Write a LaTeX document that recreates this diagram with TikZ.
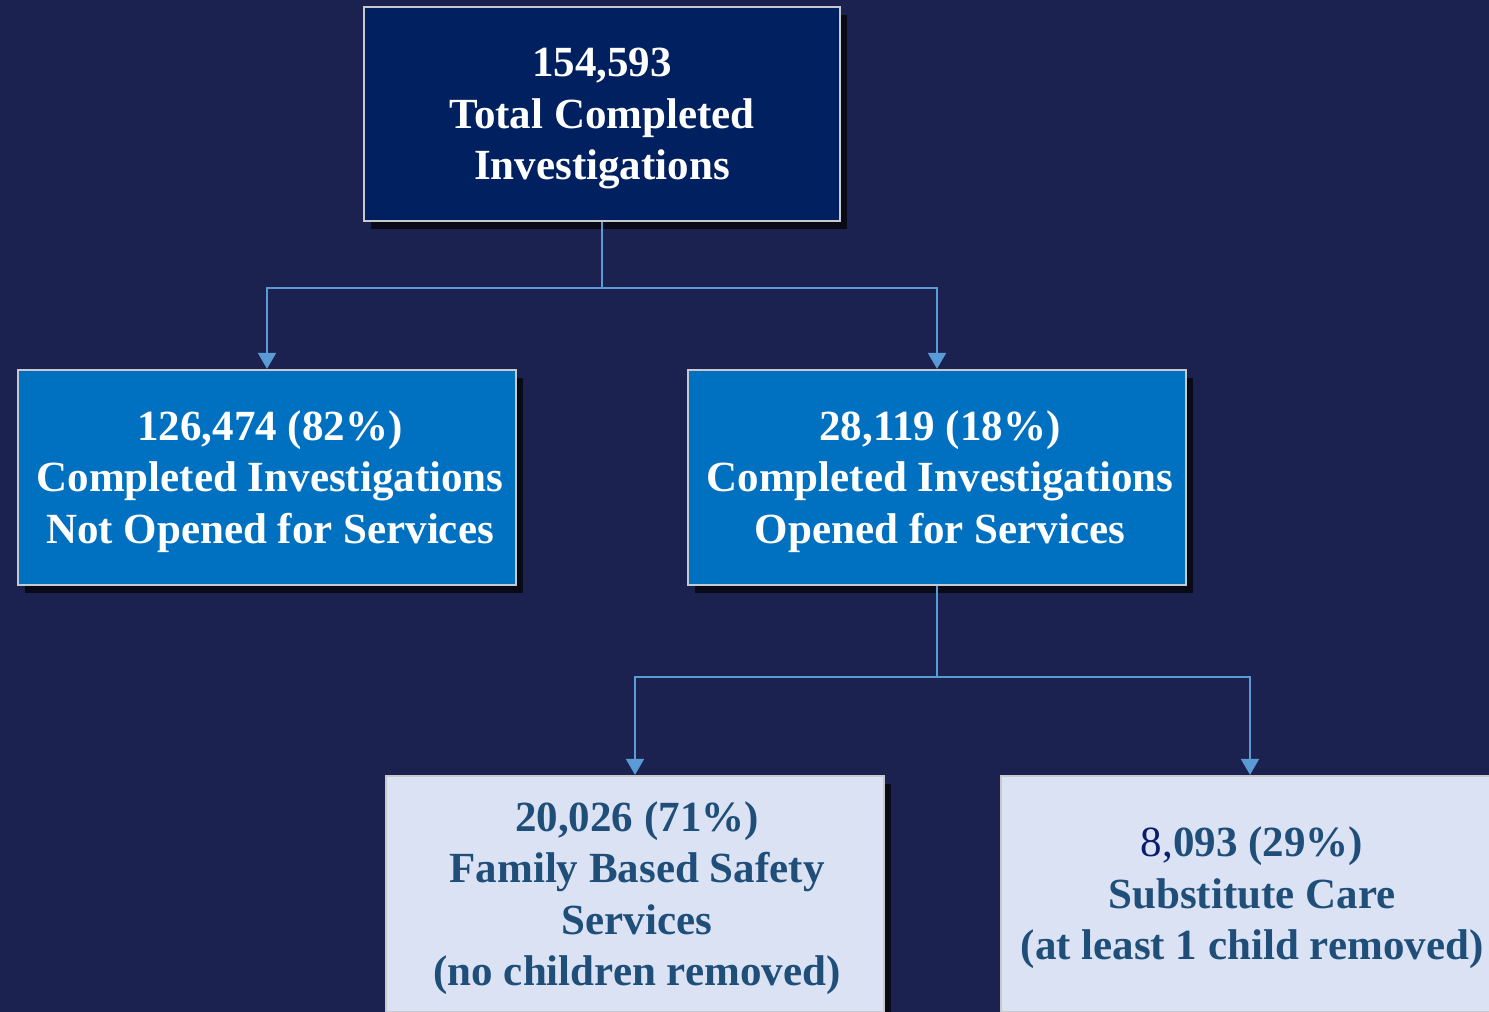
\documentclass[tikz,border=0pt]{standalone}
\usepackage{fontspec}
\setmainfont{Liberation Serif}
\usetikzlibrary{arrows.meta,shadows}
\definecolor{bgnavy}{RGB}{27,34,80}
\definecolor{topfill}{RGB}{0,32,96}
\definecolor{midfill}{RGB}{0,112,192}
\definecolor{lowfill}{RGB}{219,226,243}
\definecolor{lowtext}{RGB}{31,78,121}
\definecolor{eightc}{RGB}{10,28,110}
\definecolor{conncol}{RGB}{91,155,213}
\definecolor{edgecol}{RGB}{200,200,205}
\begin{document}
\begin{tikzpicture}[x=1pt,y=-1pt,
  boxbase/.style={rectangle, draw=edgecol, line width=1.3pt, inner sep=0pt,
     drop shadow={shadow xshift=7pt, shadow yshift=-8pt, fill=black, opacity=0.7}},
  topbox/.style={boxbase, fill=topfill, minimum width=476pt, minimum height=214pt},
  midbox/.style={boxbase, fill=midfill, minimum width=498pt, minimum height=215pt},
  lowbox/.style={boxbase, fill=lowfill, minimum width=498pt, minimum height=236pt},
  boxtext/.style={inner sep=0pt, align=center, font=\fontsize{43}{51.5}\selectfont\bfseries},
  conn/.style={draw=conncol, line width=2.2pt},
  arr/.style={conn, -{Triangle[width=18pt,length=16pt]}, shorten >=0.5pt}
]
\clip (0,0) rectangle (1489,1012);
\fill[bgnavy] (0,0) rectangle (1489,1012);
\useasboundingbox (0,0) rectangle (1489,1012);

\node[topbox] (top) at (602,114) {};
\node[midbox] (left) at (267,477.5) {};
\node[midbox] (right) at (937,477.5) {};
\node[lowbox] (fbss) at (635,894) {};
\node[lowbox] (sub) at (1250,894) {};

\node[boxtext, text=white] (toptext) at ([yshift=-5pt]top.center) {154,593\\Total Completed\\Investigations};
\node[boxtext, text=white] (lefttext) at ([xshift=3pt,yshift=-4pt]left.center) {126,474 (82\%)\\Completed Investigations\\Not Opened for Services};
\node[boxtext, text=white] (righttext) at ([xshift=3pt,yshift=-4pt]right.center) {28,119 (18\%)\\Completed Investigations\\Opened for Services};
\node[boxtext, text=lowtext] (fbsstext) at ([xshift=2pt,yshift=-4pt]fbss.center) {20,026 (71\%)\\Family Based Safety\\Services\\(no children removed)};
\node[boxtext, text=lowtext] (subtext) at ([xshift=2pt,yshift=-4pt]sub.center) {{\mdseries\color{eightc}8,}093 (29\%)\\Substitute Care\\(at least 1 child removed)};

\coordinate (j1) at (602,288);
\coordinate (j2) at (937,677);
\draw[conn] (top.south) -- (j1);
\draw[arr] (j1) -| (left.north);
\draw[arr] (j1) -| (right.north);
\draw[conn] (right.south) -- (j2);
\draw[arr] (j2) -| (fbss.north);
\draw[arr] (j2) -| (sub.north);
\end{tikzpicture}
\end{document}
